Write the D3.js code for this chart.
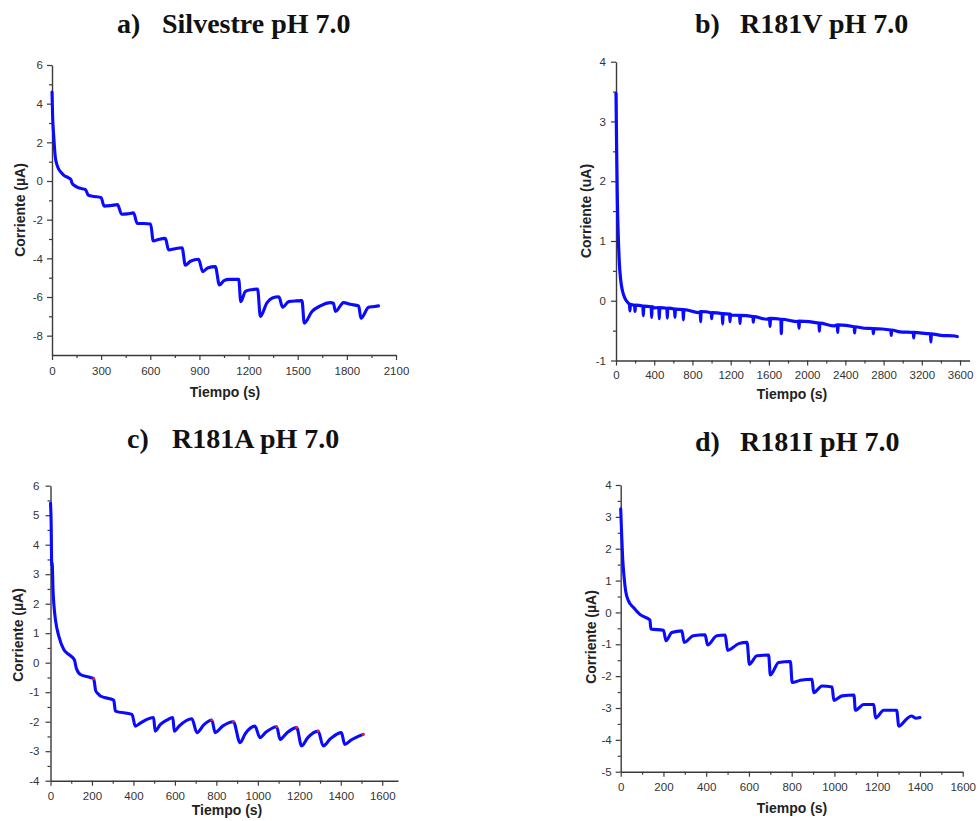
<!DOCTYPE html>
<html>
<head>
<meta charset="utf-8">
<script src="https://cdn.jsdelivr.net/npm/d3@7"></script>
<style>
  body { margin: 0; background: #fff; }
  svg { display: block; }
</style>
</head>
<body>
<svg id="fig" width="979" height="821"></svg>
<script>
// Chronoamperometric traces (current in µA vs time in s) for the wild type
// enzyme and three R181 mutants, all recorded at pH 7.0.

// a) Silvestre
const silvestreTrace = [
  [0,4.6],[4,3.3],[10,2.4],[20,1.25],[30,0.85],[40,0.63],[55,0.45],[71,0.3],[100,0.17],[115,0.08],
  [124,-0.14],[150,-0.3],[195,-0.42],[205,-0.45],[222,-0.74],[260,-0.8],[300,-0.86],[318,-1.3],
  [360,-1.27],[400,-1.22],[425,-1.72],[460,-1.7],[498,-1.65],[520,-2.2],[560,-2.2],[602,-2.22],
  [618,-3.1],[650,-3.02],[692,-2.97],[712,-3.57],[750,-3.5],[794,-3.45],[814,-4.35],[845,-4.15],
  [895,-4.05],[920,-4.69],[950,-4.5],[997,-4.43],[1022,-5.38],[1050,-5.15],[1080,-5.09],[1140,-5.09],
  [1152,-6.24],[1181,-5.71],[1220,-5.62],[1255,-5.59],[1272,-7.0],[1312,-6.3],[1345,-6.05],[1385,-5.99],
  [1408,-6.53],[1445,-6.24],[1490,-6.2],[1526,-6.19],[1540,-7.35],[1587,-6.75],[1638,-6.46],[1699,-6.29],
  [1718,-6.32],[1730,-6.75],[1780,-6.29],[1820,-6.38],[1872,-6.46],[1886,-7.1],[1933,-6.53],[1960,-6.5],[1993,-6.46]
];

// b) R181V: smooth decay plus short negative spikes
const r181vBaseline = [
  [0,3.47],[7,2.5],[14,1.7],[24,1.07],[35,0.63],[49,0.35],[70,0.15],[94,0.04],[129,-0.04],[178,-0.07],
  [400,-0.12],[879,-0.2],[1200,-0.24],[1577,-0.31],[1900,-0.35],[2275,-0.42],[2600,-0.46],[2972,-0.52],
  [3250,-0.55],[3400,-0.58],[3547,-0.59],[3570,-0.6]
];
// [time, current before spike, spike minimum]
const r181vSpikes = [
  [146,-0.06,-0.17],[199,-0.075,-0.18],[286,-0.09,-0.25],[373,-0.10,-0.28],[453,-0.115,-0.3],
  [537,-0.125,-0.29],[617,-0.14,-0.28],[705,-0.15,-0.32],[886,-0.18,-0.35],[1001,-0.2,-0.3],
  [1116,-0.215,-0.39],[1193,-0.225,-0.35],[1298,-0.245,-0.38],[1437,-0.265,-0.36],[1612,-0.295,-0.43],
  [1730,-0.31,-0.55],[1915,-0.34,-0.46],[2128,-0.375,-0.51],[2320,-0.405,-0.53],[2497,-0.435,-0.54],
  [2693,-0.465,-0.55],[2880,-0.49,-0.58],[3115,-0.53,-0.62],[3295,-0.555,-0.69]
];

// c) R181A
const r181aTrace = [
  [0,5.4],[3,4.8],[6,3.3],[8,3.4],[12,2.5],[16,2.0],[24,1.45],[40,0.9],[64,0.45],[88,0.28],[115,0.1],
  [125,-0.2],[144,-0.4],[192,-0.5],[208,-0.54],[218,-0.95],[232,-1.07],[240,-1.13],[305,-1.27],
  [313,-1.64],[393,-1.75],[409,-2.15],[433,-2.05],[465,-1.92],[497,-1.86],[505,-2.32],[529,-2.1],
  [560,-1.95],[590,-1.86],[597,-2.32],[620,-2.15],[682,-1.9],[706,-2.37],[740,-2.1],[778,-1.94],
  [794,-2.37],[830,-2.15],[882,-2.0],[914,-2.71],[940,-2.4],[986,-2.15],[1010,-2.54],[1040,-2.35],
  [1091,-2.17],[1107,-2.6],[1140,-2.38],[1187,-2.2],[1211,-2.82],[1240,-2.55],[1291,-2.32],
  [1315,-2.82],[1350,-2.58],[1403,-2.37],[1419,-2.77],[1450,-2.62],[1508,-2.43]
];
// end-of-interval points marked in red
const r181aMarks = [[208,-0.54],[778,-1.94],[882,-2.0],[1091,-2.17],[1187,-2.2],[1291,-2.32],[1508,-2.43]];

// d) R181I
const r181iTrace = [
  [0,3.25],[5,2.36],[9,1.73],[16,1.1],[23,0.68],[36,0.37],[59,0.16],[91,-0.07],[137,-0.24],[141,-0.52],
  [200,-0.56],[212,-0.89],[239,-0.63],[286,-0.58],[297,-0.94],[340,-0.73],[395,-0.7],[406,-1.02],
  [450,-0.73],[489,-0.71],[500,-1.19],[552,-0.98],[591,-0.94],[602,-1.63],[637,-1.36],[692,-1.34],
  [700,-1.96],[739,-1.57],[794,-1.54],[802,-2.2],[841,-2.13],[895,-2.1],[903,-2.52],[942,-2.31],
  [989,-2.34],[997,-2.76],[1036,-2.62],[1091,-2.59],[1098,-3.07],[1137,-2.89],[1184,-2.89],
  [1192,-3.31],[1231,-3.07],[1291,-3.07],[1301,-3.57],[1340,-3.33],[1360,-3.25],[1380,-3.32],[1400,-3.3]
];

// Tick values
const ticksAX = [0,300,600,900,1200,1500,1800,2100];
const ticksAY = [6,4,2,0,-2,-4,-6,-8];
const ticksBX = [0,400,800,1200,1600,2000,2400,2800,3200,3600];
const ticksBY = [4,3,2,1,0,-1];
const ticksCX = [0,200,400,600,800,1000,1200,1400,1600];
const ticksCY = [6,5,4,3,2,1,0,-1,-2,-3,-4];
const ticksDX = [0,200,400,600,800,1000,1200,1400,1600];
const ticksDY = [4,3,2,1,0,-1,-2,-3,-4,-5];

// Panel titles and axis titles
const panelLetters = ["a)", "b)", "c)", "d)"];
const panelNames = ["Silvestre pH 7.0", "R181V pH 7.0", "R181A pH 7.0", "R181I pH 7.0"];
const yTitles = ["Corriente (\u00b5A)", "Corriente (uA)", "Corriente (\u00b5A)", "Corriente (\u00b5A)"];
const xTitle = "Tiempo (s)";

// merge the R181V decay with its spikes into one time-ordered trace
const r181vTrace = r181vBaseline.map(d => d.slice());
r181vSpikes.forEach(([t, base, low]) => {
  r181vTrace.push([t - 5, base], [t, low], [t + 5, base]);
});
r181vTrace.sort((p, q) => p[0] - q[0]);

const svg = d3.select("#fig");
svg.append("rect").attr("width", 979).attr("height", 821).attr("fill", "#fff");

const SANS = "'Liberation Sans', Arial, Helvetica, sans-serif";
const SERIF = "'Liberation Serif', 'Times New Roman', serif";
const LINE = "#0a0aff";

const panels = [
  { trace: silvestreTrace, xd: [0,2100], yd: [-9,6], xt: ticksAX, yt: ticksAY,
    box: {l: 52, r: 396, t: 65, b: 355}, xPad: 7, yPad: 4,
    title: {x1: 117, x2: 162, y: 33}, yLab: {x: 20, y: 210}, xLab: {x: 225, y: 392} },
  { trace: r181vTrace, xd: [0,3700], yd: [-1,4], xt: ticksBX, yt: ticksBY,
    box: {l: 616, r: 969.6, t: 61.7, b: 360.5}, xPad: 5, yPad: 5,
    title: {x1: 695, x2: 740, y: 33}, yLab: {x: 586, y: 211}, xLab: {x: 792, y: 394} },
  { trace: r181aTrace, xd: [0,1676], yd: [-4,6], xt: ticksCX, yt: ticksCY,
    box: {l: 50.5, r: 398, t: 485.7, b: 780.7}, xPad: 6, yPad: 6,
    title: {x1: 127, x2: 172, y: 448}, yLab: {x: 18, y: 635}, xLab: {x: 227, y: 810} },
  { trace: r181iTrace, xd: [0,1600], yd: [-5,4], xt: ticksDX, yt: ticksDY,
    box: {l: 620.7, r: 962.7, t: 485, b: 771.7}, xPad: 6, yPad: 4,
    title: {x1: 695, x2: 740, y: 451}, yLab: {x: 591, y: 637}, xLab: {x: 792, y: 808} }
];

panels.forEach((p, i) => {
  const x = d3.scaleLinear().domain(p.xd).range([p.box.l, p.box.r]);
  const y = d3.scaleLinear().domain(p.yd).range([p.box.b, p.box.t]);
  const g = svg.append("g");

  // minor ticks halfway between labelled ticks
  const mid = arr => d3.pairs(arr).map(([a, b]) => (a + b) / 2);
  const minorX = mid(p.xt).concat(p.xt[p.xt.length - 1] + (p.xt[1] - p.xt[0]) / 2)
    .filter(v => v <= p.xd[1]);
  const minorY = mid(p.yt);

  const styleAxis = sel => {
    sel.selectAll("path.domain").attr("stroke", "#3a3a3a").attr("stroke-width", 1.4);
    sel.selectAll(".tick line").attr("stroke", "#3a3a3a").attr("stroke-width", 1.2);
    sel.selectAll(".tick text").attr("fill", "#333").style("font-family", SANS).style("font-size", "11.5px");
  };

  g.append("g").attr("transform", `translate(0,${p.box.b})`)
    .call(d3.axisBottom(x).tickValues(minorX).tickSize(3).tickFormat(""))
    .call(s => s.select("path.domain").remove())
    .call(styleAxis);
  g.append("g").attr("transform", `translate(${p.box.l},0)`)
    .call(d3.axisLeft(y).tickValues(minorY).tickSize(3).tickFormat(""))
    .call(s => s.select("path.domain").remove())
    .call(styleAxis);

  g.append("g").attr("transform", `translate(0,${p.box.b})`)
    .call(d3.axisBottom(x).tickValues(p.xt).tickSize(5).tickSizeOuter(0)
      .tickPadding(p.xPad).tickFormat(d => String(d)))
    .call(styleAxis);
  g.append("g").attr("transform", `translate(${p.box.l},0)`)
    .call(d3.axisLeft(y).tickValues(p.yt).tickSize(5).tickSizeOuter(0)
      .tickPadding(p.yPad).tickFormat(d => String(d)))
    .call(styleAxis);

  // trace
  const line = d3.line().x(d => x(d[0])).y(d => y(d[1])).curve(d3.curveMonotoneX);
  g.append("path").datum(p.trace)
    .attr("d", line)
    .attr("fill", "none")
    .attr("stroke", LINE)
    .attr("stroke-width", i === 1 ? 3.2 : 3.1)
    .attr("stroke-linejoin", "round")
    .attr("stroke-linecap", "round");

  if (i === 2) {
    g.selectAll("circle.mark").data(r181aMarks).join("circle")
      .attr("class", "mark")
      .attr("cx", d => x(d[0])).attr("cy", d => y(d[1]))
      .attr("r", 1.3).attr("fill", "#ff2020");
  }

  // panel title
  g.append("text").attr("x", p.title.x1).attr("y", p.title.y)
    .style("font-family", SERIF).style("font-weight", "bold").style("font-size", "28px")
    .attr("fill", "#111").text(panelLetters[i]);
  g.append("text").attr("x", p.title.x2).attr("y", p.title.y)
    .style("font-family", SERIF).style("font-weight", "bold").style("font-size", "28px")
    .attr("fill", "#111").text(panelNames[i]);

  // axis titles
  g.append("text")
    .attr("transform", `translate(${p.yLab.x},${p.yLab.y}) rotate(-90)`)
    .attr("text-anchor", "middle").attr("dy", "0.35em")
    .style("font-family", SANS).style("font-weight", "bold").style("font-size", "14px")
    .attr("fill", "#222").text(yTitles[i]);
  g.append("text")
    .attr("x", p.xLab.x).attr("y", p.xLab.y)
    .attr("text-anchor", "middle").attr("dy", "0.35em")
    .style("font-family", SANS).style("font-weight", "bold").style("font-size", "14px")
    .attr("fill", "#222").text(xTitle);
});
</script>
</body>
</html>
